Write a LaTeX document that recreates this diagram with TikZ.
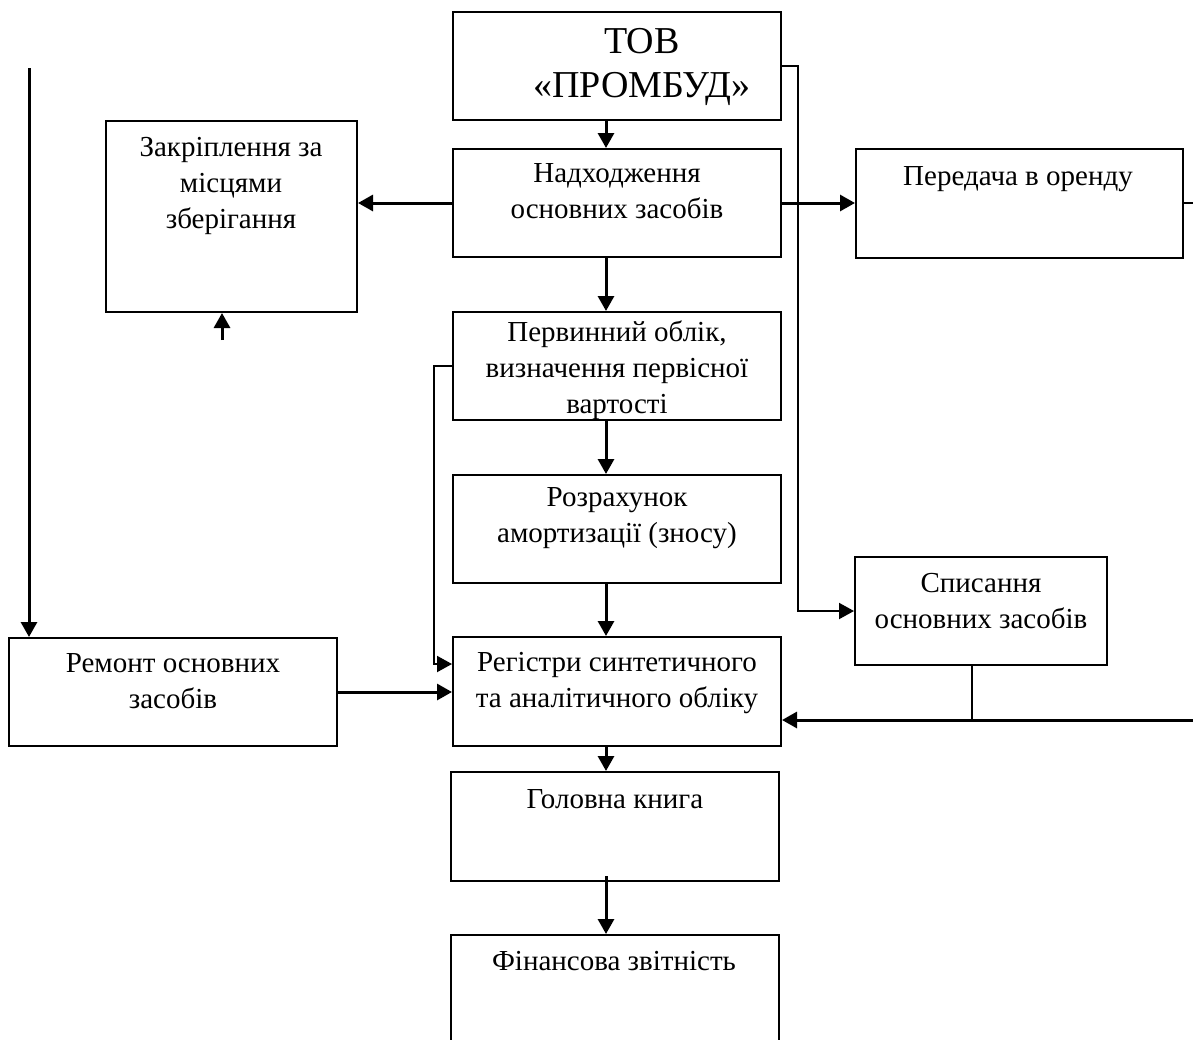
\documentclass[tikz,border=0pt]{standalone}
\usepackage{fontspec}
\setmainfont{Liberation Serif}
\usetikzlibrary{arrows.meta,calc}
\tikzset{
  x=0.5pt,y=-0.5pt,
  box/.style={draw,line width=1pt,inner sep=0pt,rectangle},
  txt/.style={inner sep=0pt,align=center,anchor=base,font=\fontsize{14.5}{18}\selectfont},
  ttl/.style={inner sep=0pt,align=center,anchor=base,font=\fontsize{19}{22}\selectfont},
  arr/.style={line width=1.5pt,-{Triangle[length=7.5pt,width=8pt]}},
  tarr/.style={line width=1pt,-{Triangle[length=7.5pt,width=8pt]}},
  ln/.style={line width=1pt},
}
\begin{document}
\begin{tikzpicture}
\useasboundingbox (0,0) rectangle (1193,1039);
\clip (0,0) rectangle (1193,1039);
% boxes
\node[box,minimum width=164pt,minimum height=54pt] (top) at (617,66) {};
\node[box,minimum width=164pt,minimum height=54pt] (nad) at (617,203) {};
\node[box,minimum width=164pt,minimum height=54pt] (perv) at (617,366) {};
\node[box,minimum width=164pt,minimum height=54pt] (rozr) at (617,529) {};
\node[box,minimum width=164pt,minimum height=54.5pt] (reg) at (617,691.5) {};
\node[box,minimum width=164pt,minimum height=54.5pt] (gol) at (615,826.5) {};
\node[box,minimum width=164pt,minimum height=62.5pt] (fin) at (615,997.5) {};
\node[box,minimum width=125.5pt,minimum height=95.5pt] (zak) at (231.5,216.5) {};
\node[box,minimum width=163.5pt,minimum height=54.5pt] (pered) at (1019.5,203.5) {};
\node[box,minimum width=126pt,minimum height=54pt] (spy) at (981,611) {};
\node[box,minimum width=164pt,minimum height=54pt] (rem) at (173,692) {};
% texts (anchor = baseline of last line)
\node[ttl] (ttop) at (642,97) {ТОВ\\«ПРОМБУД»};
\node[txt] (tnad) at (617,218) {Надходження\\основних засобів};
\node[txt] (tzak) at (231,228) {Закріплення за\\місцями\\зберігання};
\node[txt] (tpered) at (1018,185) {Передача в оренду};
\node[txt] (tperv) at (617,413) {Первинний облік,\\визначення первісної\\вартості};
\node[txt] (trozr) at (617,542) {Розрахунок\\амортизації (зносу)};
\node[txt] (treg) at (617,707) {Регістри синтетичного\\та аналітичного обліку};
\node[txt] (tspy) at (981,628) {Списання\\основних засобів};
\node[txt] (trem) at (173,708) {Ремонт основних\\засобів};
\node[txt] (tgol) at (615,808) {Головна книга};
\node[txt] (tfin) at (614,970) {Фінансова звітність};
% helper coordinates
\coordinate (ax) at (606,0);
\coordinate (vx) at (798,0);
\coordinate (la) at (434,664);
\coordinate (ltop) at (29,68);
\coordinate (rr) at (1193,720);
\coordinate (re) at (1193,203);
\coordinate (bx) at (972,0);
\coordinate (sa) at (222,340);
\coordinate (gs) at (606,876);
% main vertical arrows
\draw[arr] (top.south -| ax) -- (nad.north -| ax);
\draw[arr] (nad.south -| ax) -- (perv.north -| ax);
\draw[arr] (perv.south -| ax) -- (rozr.north -| ax);
\draw[arr] (rozr.south -| ax) -- (reg.north -| ax);
\draw[arr] (reg.south -| ax) -- (gol.north -| ax);
\draw[arr] (gs) -- (fin.north -| gs);
% side arrows
\draw[arr] (nad.west) -- (zak.east |- nad.west);
\draw[arr] (nad.east) -- (pered.west |- nad.east);
\draw[ln] (pered.east |- re) -- (re);
\draw[tarr] (top.east) -- (top.east -| vx) -- (vx |- spy.west) -- (spy.west);
\draw[tarr] (perv.west) -- (perv.west -| la) -- (la) -- (reg.west |- la);
\draw[arr] (ltop) -- (ltop |- rem.north);
\draw[arr] (rem.east) -- (reg.west |- rem.east);
\draw[arr] (rr) -- (reg.east |- rr);
\draw[ln] (spy.south -| bx) -- (bx |- rr);
\draw[arr] (sa) -- (sa |- zak.south);
\end{tikzpicture}
\end{document}
